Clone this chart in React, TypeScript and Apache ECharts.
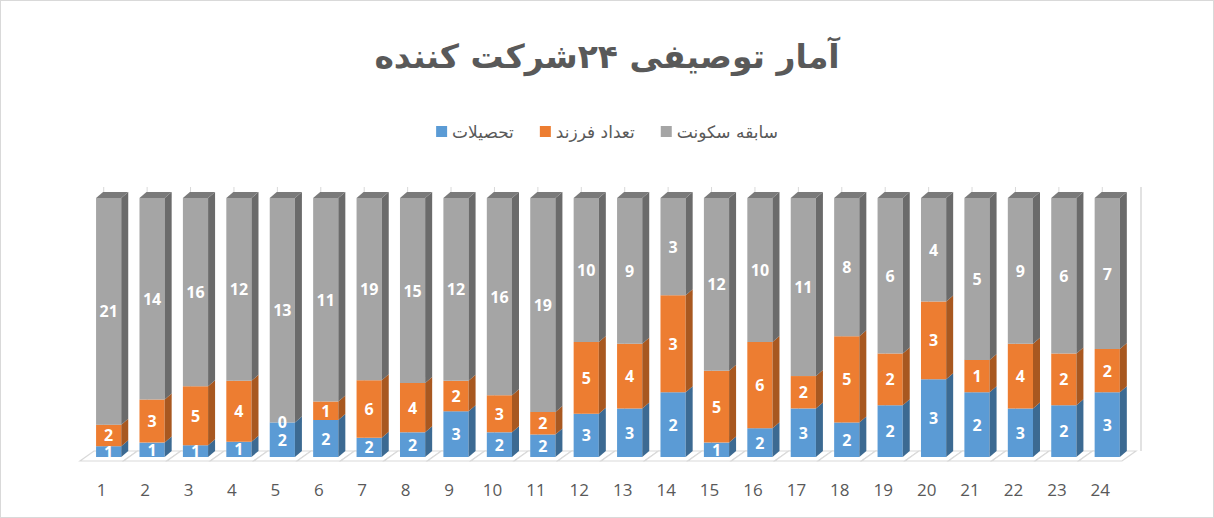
import React, { useEffect, useRef } from "react";
import * as echarts from "echarts";

const categories = ["1","2","3","4","5","6","7","8","9","10","11","12","13","14","15","16","17","18","19","20","21","22","23","24"];
const seriesNames = ["تحصیلات", "تعداد فرزند", "سابقه سکونت"];
const education = [1,1,1,1,2,2,2,2,3,2,2,3,3,2,1,2,3,2,2,3,2,3,2,3];
const children = [2,3,5,4,0,1,6,4,2,3,2,5,4,3,5,6,2,5,2,3,1,4,2,2];
const residence = [21,14,16,12,13,11,19,15,12,16,19,10,9,3,12,10,11,8,6,4,5,9,6,7];
const titleText = "آمار توصیفی ۲۴شرکت کننده";

const palette = [
  { front: "#5B9BD5", side: "#3C6A92", top: "#4A80B2" },
  { front: "#ED7D31", side: "#A85820", top: "#C96A28" },
  { front: "#A5A5A5", side: "#6B6B6B", top: "#7A7A7A" },
];

const DX = 7;
const DY = 6;
const BAR_FRAC = 0.58;
const BAR_SHIFT = 0.16;

function makeRender(pi: number, isTop: boolean) {
  const col = palette[pi];
  return (params: any, api: any) => {
    const idx = api.value(0);
    const s = api.value(1);
    const e = api.value(2);
    const band = api.size([1, 0])[0];
    const w = band * BAR_FRAC;
    const b = api.coord([idx, s]);
    const t = api.coord([idx, e]);
    const cx = b[0] + band * BAR_SHIFT;
    const x1 = cx - w / 2;
    const x2 = cx + w / 2;
    const yb = b[1];
    const yt = t[1];
    const children: any[] = [
      { type: "rect", shape: { x: x1, y: yt, width: w, height: yb - yt }, style: { fill: col.front } },
      {
        type: "polygon",
        shape: { points: [[x2, yt], [x2 + DX, yt - DY], [x2 + DX, yb - DY], [x2, yb]] },
        style: { fill: col.side },
      },
    ];
    if (isTop) {
      children.push({
        type: "polygon",
        shape: { points: [[x1, yt], [x1 + DX, yt - DY], [x2 + DX, yt - DY], [x2, yt]] },
        style: { fill: col.top },
      });
    }
    return { type: "group", children };
  };
}

function renderLabel(params: any, api: any) {
  const idx = api.value(0);
  const mid = api.value(1);
  const raw = api.value(2);
  const band = api.size([1, 0])[0];
  const p = api.coord([idx, mid]);
  return {
    type: "text",
    style: {
      text: String(raw),
      x: p[0] + band * BAR_SHIFT,
      y: p[1],
      align: "center",
      verticalAlign: "middle",
      fill: "#ffffff",
      font: "bold 16px 'Open Sans', sans-serif",
    },
  };
}

function renderFloor(params: any, api: any) {
  const idx = api.value(0);
  const band = api.size([1, 0])[0];
  const p0 = api.coord([idx, 0]);
  const pTop = api.coord([idx, 100]);
  const xl = p0[0] - band / 2;
  const xr = p0[0] + band / 2;
  const y0 = p0[1];
  const fdx = 14;
  const fdy = 10;
  const children: any[] = [
    {
      type: "polygon",
      shape: { points: [[xl, y0 + 4], [xr, y0 + 4], [xr + fdx, y0 + 4 - fdy], [xl + fdx, y0 + 4 - fdy]] },
      style: { fill: "#ffffff", stroke: "#D9D9D9", lineWidth: 1.2 },
    },
    {
      type: "line",
      shape: { x1: p0[0] + 2, y1: pTop[1] - 11, x2: p0[0] + 2, y2: y0 - 6 },
      style: { stroke: "#D9D9D9", lineWidth: 1 },
    },
  ];
  if (idx === categories.length - 1) {
    children.push({
      type: "line",
      shape: { x1: xr + fdx + 5, y1: pTop[1] - 11, x2: xr + fdx + 5, y2: y0 - 6 },
      style: { stroke: "#D9D9D9", lineWidth: 1.5 },
    });
  }
  return { type: "group", children };
}

export default function App() {
  const ref = useRef<HTMLDivElement>(null);
  useEffect(() => {
    if (!ref.current) return;
    const chart = echarts.init(ref.current, undefined, { renderer: "svg" });
    const raws = [education, children, residence];
    const totals = categories.map((_, i) => education[i] + children[i] + residence[i]);
    const seriesData = raws.map((arr, si) =>
      arr.map((v, i) => {
        let start = 0;
        for (let k = 0; k < si; k++) start += raws[k][i];
        return [i, (start / totals[i]) * 100, ((start + v) / totals[i]) * 100, v];
      })
    );
    const labelData: number[][] = [];
    seriesData.forEach((d) => d.forEach((r) => labelData.push([r[0], (r[1] + r[2]) / 2, r[3]])));
    const option: any = {
      animation: false,
      backgroundColor: "#ffffff",
      title: {
        text: titleText,
        left: "center",
        top: 34,
        textStyle: { fontFamily: "'DejaVu Sans', sans-serif", fontSize: 33, fontWeight: "bold", color: "#595959" },
      },
      legend: {
        data: seriesNames.map((n, i) => ({ name: n, itemStyle: { color: palette[i].front } })),
        top: 117,
        left: "center",
        icon: "rect",
        itemWidth: 11,
        itemHeight: 11,
        itemGap: 26,
        textStyle: { fontFamily: "'DejaVu Sans', sans-serif", fontSize: 17, color: "#595959" },
      },
      grid: { left: 79, right: 91, top: 197, bottom: 60 },
      xAxis: {
        type: "category",
        data: categories,
        axisLine: { show: false },
        axisTick: { show: false },
        axisLabel: { margin: 24, fontSize: 17, color: "#595959", fontFamily: "'Open Sans', sans-serif" },
      },
      yAxis: { type: "value", min: 0, max: 100, show: false, splitLine: { show: false } },
      series: [
        {
          type: "custom",
          name: "floor",
          renderItem: renderFloor,
          data: categories.map((_, i) => [i]),
          encode: { x: 0 },
          z: 1,
          silent: true,
        },
        ...seriesData.map((d, si) => ({
          type: "custom",
          name: seriesNames[si],
          renderItem: makeRender(si, si === 2),
          data: d,
          encode: { x: 0, y: [1, 2] },
          itemStyle: { color: palette[si].front },
          z: 2 + si,
        })),
        {
          type: "custom",
          name: "labels",
          renderItem: renderLabel,
          data: labelData,
          encode: { x: 0, y: 1 },
          z: 10,
          silent: true,
        },
      ],
    };
    chart.setOption(option);
    return () => chart.dispose();
  }, []);
  return (
    <div
      style={{
        position: "fixed",
        left: 0,
        top: 0,
        width: 1214,
        height: 518,
        boxSizing: "border-box",
        border: "1px solid #D9D9D9",
        background: "#fff",
      }}
    >
      <div ref={ref} style={{ width: "100%", height: "100%" }} />
    </div>
  );
}
